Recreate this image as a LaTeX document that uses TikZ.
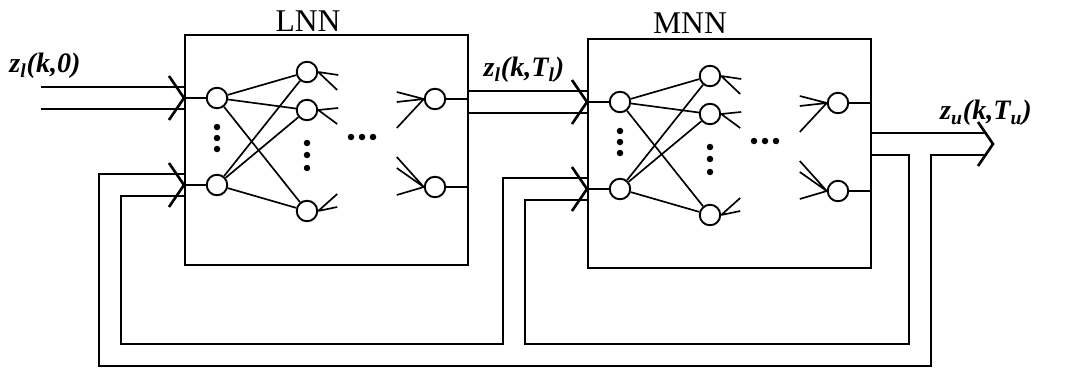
\documentclass[tikz,border=0pt]{standalone}
\usepackage{fontspec}
\setmainfont{Liberation Serif}
\usetikzlibrary{backgrounds}

\begin{document}
\begin{tikzpicture}[x=0.02cm,y=-0.02cm,line join=miter,
    box/.style={draw,line width=1.2pt,minimum width=5.66cm,inner sep=0pt},
    neuron/.style={draw,circle,line width=1.1pt,minimum size=0.41cm,inner sep=0pt},
    wire/.style={line width=0.95pt},
    buswall/.style={line width=0.49cm},
    busgap/.style={white,line width=0.40cm},
    vee/.style={line width=1.5pt},
    netname/.style={font=\fontsize{18}{21}\selectfont},
    signal/.style={font=\fontsize{16}{19}\selectfont\bfseries\itshape}]
    \useasboundingbox (0,0) rectangle (1090,372);
    \node (lnn) [box, minimum height=4.6cm] at (326.5,150) {};
    \node (mnn) [box, minimum height=4.58cm] at (729.5,153.5) {};
    \node (lnn-name) [netname] at (308,21) {LNN};
    \node (mnn-name) [netname] at (690,23) {MNN};
    \foreach \net/\dx/\dy in {lnn/0/0,mnn/403/4}{
        \node (\net-i1) [neuron] at (217+\dx,98+\dy) {};
        \node (\net-i2) [neuron] at (217+\dx,185+\dy) {};
        \node (\net-h1) [neuron] at (307+\dx,72+\dy) {};
        \node (\net-h2) [neuron] at (307+\dx,110+\dy) {};
        \node (\net-h3) [neuron] at (307+\dx,211+\dy) {};
        \node (\net-o1) [neuron] at (435+\dx,99+\dy) {};
        \node (\net-o2) [neuron] at (435+\dx,187+\dy) {};
        \foreach \a in {i1,i2}
            \foreach \b in {h1,h2,h3}
                \draw[wire] (\net-\a) -- (\net-\b);
        \draw[wire] (\net.west |- \net-i1) -- (\net-i1);
        \draw[wire] (\net.west |- \net-i2) -- (\net-i2);
        \draw[wire] (\net-o1) -- (\net.east |- \net-o1);
        \draw[wire] (\net-o2) -- (\net.east |- \net-o2);
        \draw[wire] (\net-h1.east) -- ++(20,3) (\net-h1.east) -- ++(19,18);
        \draw[wire] (\net-h2.east) -- ++(20,-2) (\net-h2.east) -- ++(19,14);
        \draw[wire] (\net-h3.east) -- ++(19,-17) (\net-h3.east) -- ++(19,-4);
        \draw[wire] (\net-o1.west) -- ++(-27,-7) (\net-o1.west) -- ++(-27,3) (\net-o1.west) -- ++(-27,29);
        \draw[wire] (\net-o2.west) -- ++(-27,-30) (\net-o2.west) -- ++(-27,-19) (\net-o2.west) -- ++(-27,8);
        \foreach \yy in {127,138,149}
            \fill (217+\dx,\yy+\dy) circle[radius=0.065cm];
        \foreach \yy in {143,155,168}
            \fill (307+\dx,\yy+\dy) circle[radius=0.065cm];
        \foreach \xx in {351,362,373}
            \fill (\xx+\dx,137+\dy) circle[radius=0.065cm];
    }
    \node (zl0) [signal] at (45,66) {z\textsubscript{l}(k,0)};
    \node (zlT) [signal] at (524,70) {z\textsubscript{l}(k,T\textsubscript{l})};
    \node (zuT) [signal] at (986,113) {z\textsubscript{u}(k,T\textsubscript{u})};
    \coordinate (zin) at (41,98);
    \coordinate (zout) at (987,144);
    \coordinate (tip) at (993,144);
    \coordinate (fb) at (920,144);
    \coordinate (fbr) at (920,355);
    \coordinate (fbm) at (514,355);
    \coordinate (fbl) at (110,355);
    \coordinate (lnn-in1) at (lnn.west |- lnn-i1);
    \coordinate (lnn-in2) at (lnn.west |- lnn-i2);
    \coordinate (mnn-in1) at (mnn.west |- mnn-i1);
    \coordinate (mnn-in2) at (mnn.west |- mnn-i2);
    \begin{pgfonlayer}{background}
        \foreach \s in {buswall,busgap}{
            \draw[\s] (zin) -- (lnn-in1);
            \draw[\s] (lnn.east |- mnn-i1) -- (mnn-in1);
            \draw[\s] (mnn.east |- fb) -- (zout);
            \draw[\s] (fb) -- (fbr) -- (fbl) |- (lnn-in2);
            \draw[\s] (fbm) |- (mnn-in2);
        }
    \end{pgfonlayer}
    \foreach \t in {lnn-in1,lnn-in2,mnn-in1,mnn-in2,tip}
        \draw[vee] (\t) ++(-15,-22) -- (\t) -- ++(-15,22);
\end{tikzpicture}
\end{document}
